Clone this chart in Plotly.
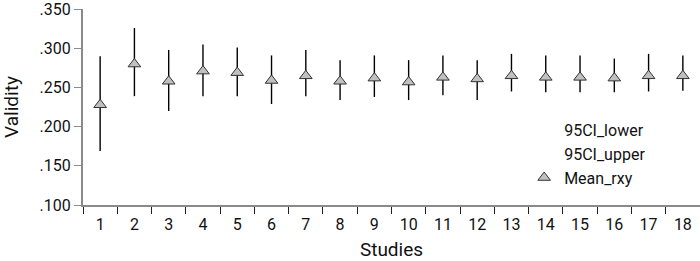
import plotly.graph_objects as go

studies = [str(i) for i in range(1, 19)]
mean_rxy = [0.228, 0.280, 0.258, 0.271, 0.269, 0.259, 0.265, 0.258, 0.262, 0.257,
            0.263, 0.261, 0.265, 0.263, 0.263, 0.262, 0.265, 0.265]
ci_lower = [0.169, 0.239, 0.220, 0.239, 0.239, 0.229, 0.239, 0.234, 0.238, 0.234,
            0.240, 0.234, 0.245, 0.244, 0.244, 0.244, 0.245, 0.246]
ci_upper = [0.290, 0.326, 0.298, 0.305, 0.301, 0.291, 0.298, 0.285, 0.291, 0.285,
            0.291, 0.285, 0.293, 0.291, 0.291, 0.287, 0.293, 0.291]
y_tickvals = [0.10, 0.15, 0.20, 0.25, 0.30, 0.35]
y_ticktext = [".100", ".150", ".200", ".250", ".300", ".350"]

FONT = "Roboto, sans-serif"
AXIS_COLOR = "#8a8a8a"
CLEAR = "rgba(0,0,0,0)"

# vertical CI lines built from the data
vx, vy = [], []
for s, lo, hi in zip(studies, ci_lower, ci_upper):
    vx += [s, s, None]
    vy += [lo, hi, None]

fig = go.Figure()
fig.add_trace(go.Scatter(x=vx, y=vy, mode="lines", line=dict(color="black", width=1.4),
                         showlegend=False, hoverinfo="skip"))
fig.add_trace(go.Scatter(x=studies, y=ci_lower, mode="markers", name="95CI_lower",
                         marker=dict(size=1, color=CLEAR, line=dict(width=0, color=CLEAR))))
fig.add_trace(go.Scatter(x=studies, y=ci_upper, mode="markers", name="95CI_upper",
                         marker=dict(size=1, color=CLEAR, line=dict(width=0, color=CLEAR))))
fig.add_trace(go.Scatter(x=studies, y=mean_rxy, mode="markers", name="Mean_rxy",
                         marker=dict(symbol="triangle-up", size=11, color="#c0c0c0",
                                     line=dict(color="#333333", width=1))))

fig.update_layout(
    width=700, height=261,
    margin=dict(l=83, r=0, t=9, b=56),
    plot_bgcolor="white", paper_bgcolor="white",
    font=dict(family=FONT, size=16, color="#111111"),
    legend=dict(x=0.715, y=0.26, xanchor="left", yanchor="middle",
                bgcolor=CLEAR, font=dict(size=16),
                itemwidth=30, tracegroupgap=0),
    xaxis=dict(type="category", title=dict(text="Studies", standoff=21),
               automargin=False, ticklabelstandoff=4,
               showline=True, linecolor=AXIS_COLOR, linewidth=2,
               ticks="outside", tickson="boundaries", ticklen=7, tickcolor="#222222",
               tickwidth=1, showgrid=False, zeroline=False, range=[-0.5, 17.5]),
    yaxis=dict(title=dict(text="Validity", standoff=19), range=[0.1, 0.3503],
               automargin=False, ticklabeloverflow="allow",
               tickvals=y_tickvals, ticktext=y_ticktext,
               showline=True, linecolor=AXIS_COLOR, linewidth=2,
               ticks="outside", ticklen=7, tickcolor=AXIS_COLOR, tickwidth=1,
               showgrid=False, zeroline=False),
)

fig.write_html("out.html", config={"displayModeBar": False},
               post_script="document.body.style.margin='0';")
